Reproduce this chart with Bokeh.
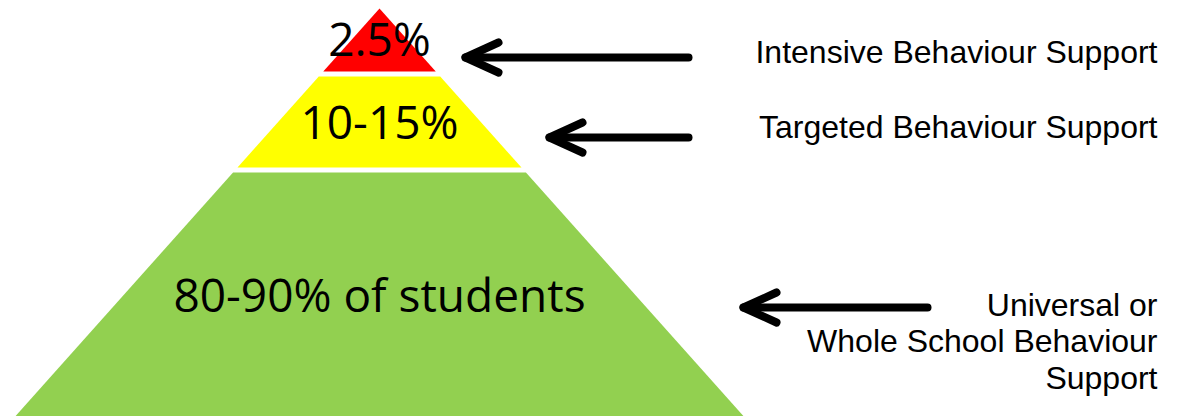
from bokeh.plotting import figure
from bokeh.models import Range1d
from bokeh.core.properties import value
from bokeh.embed import file_html
from bokeh.resources import INLINE

# ---- data ----
tier_labels = ["2.5%", "10-15%", "80-90% of students"]
tier_colors = ["#FF0000", "#FFFF00", "#92D050"]
support_labels = [
    ["Intensive Behaviour Support"],
    ["Targeted Behaviour Support"],
    ["Universal or", "Whole School Behaviour", "Support"],
]

# ---- layout (pixel-like data coordinates, y grows downward) ----
W, H = 1178, 416
apex_x, apex_y = 379, 8
slope = 0.893                     # half-width growth per unit of depth
tier_top = [8, 76, 172]
tier_bottom = [71, 167, 440]
tier_label_y = [37, 120, 293]
arrow_tip_x = [465, 549, 743]
arrow_tail_x = [688, 688, 927]
arrow_y = [57, 137, 307]
label_right_x = 1157
label_first_baseline = [51, 126, 304]
label_line_step = 36.5

p = figure(width=W, height=H, output_backend="svg", toolbar_location=None,
           x_range=Range1d(0, W), y_range=Range1d(H, 0),
           min_border=0, outline_line_color=None, background_fill_color="white",
           border_fill_color="white")
p.xaxis.visible = False
p.yaxis.visible = False
p.grid.visible = False

def half(y):
    return (y - apex_y) * slope

xs, ys = [], []
for t, b in zip(tier_top, tier_bottom):
    ht, hb = half(t), half(b)
    xs.append([apex_x - ht, apex_x + ht, apex_x + hb, apex_x - hb])
    ys.append([t, t, b, b])
p.patches(xs, ys, fill_color=tier_colors, line_color=None)

p.text(x=[apex_x] * 3, y=tier_label_y, text=tier_labels,
       text_font=value("Open Sans"), text_font_size="46px",
       text_align="center", text_baseline="alphabetic", text_color="black")

# arrows
ax, ay = [], []
for tx, tl, y in zip(arrow_tip_x, arrow_tail_x, arrow_y):
    ax.append([tl, tx]); ay.append([y, y])
    ax.append([tx + 33, tx, tx + 33]); ay.append([y - 15, y, y + 15])
p.multi_line(ax, ay, line_color="black", line_width=8,
             line_cap="round", line_join="round")

# right labels
lx, ly, lt = [], [], []
for lines, b0 in zip(support_labels, label_first_baseline):
    for i, s in enumerate(lines):
        lx.append(label_right_x); ly.append(b0 + i * label_line_step); lt.append(s)
p.text(x=lx, y=ly, text=lt, text_font=value("Liberation Sans"),
       text_font_size="32px", text_align="right", text_baseline="alphabetic",
       text_color="black")

open("out.html", "w").write(file_html(p, INLINE))
